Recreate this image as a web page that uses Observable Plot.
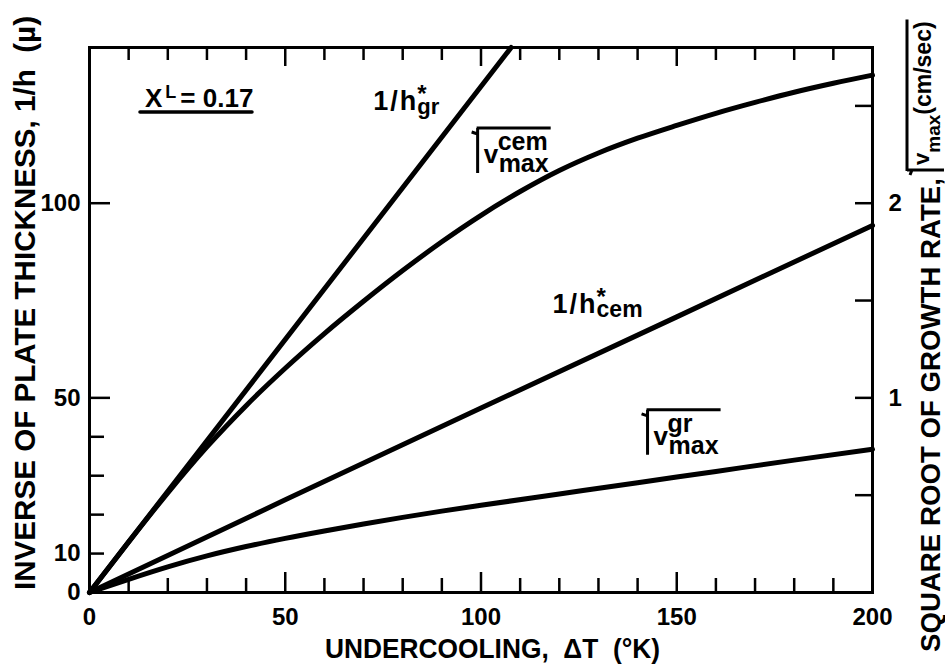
<!DOCTYPE html>
<html><head><meta charset="utf-8">
<script src="https://cdn.jsdelivr.net/npm/d3@7"></script>
<script src="https://cdn.jsdelivr.net/npm/@observablehq/plot@0.6"></script>
<style>
html,body{margin:0;padding:0;background:#fff;}
svg{display:block;}
</style></head><body><div id="chart"></div>
<script>
// ---- data (left-axis units: 1/h in 1/µ; right axis = left / 50) ----
const hGrT = [0, 107.7];
const hGrV = [0, 140];
const hCemT = [0, 50, 100, 150, 200];
const hCemV = [0, 23.8, 47.4, 70.8, 94.3];
const vCemT = [0,10,20,30,40,50,60,70,80,90,100,110,120,130,140,150,160,170,180,190,200];
const vCemV = [0,13,25.6,37.4,48,57.6,66.5,74.8,82.7,90.1,96.9,103,108.4,112.9,116.7,120,123.1,125.9,128.5,130.8,132.9];
const vGrT = [0,10,20,30,40,50,60,70,80,90,100,120,140,160,180,200];
const vGrV = [0,3.4,6.6,9.4,11.8,13.9,15.8,17.6,19.3,20.9,22.4,25.3,28.2,31.1,34,36.8];

// ---- ticks ----
const xTickLabels = [0, 50, 100, 150, 200];
const xMajorTicks = [50, 100, 150];
const xMinorTicks = [10,20,30,40,60,70,80,90,110,120,130,140,160,170,180,190];
const yTickLabels = [0, 10, 50, 100];
const yMinorTicks = [10, 20, 30, 40];
const yMajorTicks = [50, 100];
const rightTickLabels = [1, 2];
const rightTicks = [0.5, 1, 1.5, 2, 2.5];
const rightFactor = 50;

const FONT = "'Liberation Sans',Arial,sans-serif";
const rows = (xs, ys) => xs.map((x, i) => ({x, y: ys[i]}));
const lineOpts = {x: "x", y: "y", stroke: "#000", strokeWidth: 5, strokeLinecap: "round"};

const chart = Plot.plot({
  width: 945, height: 667,
  marginLeft: 89, marginRight: 73, marginTop: 47, marginBottom: 75,
  x: {domain: [0, 200]},
  y: {domain: [0, 140]},
  style: {fontFamily: FONT, fontWeight: "bold", color: "#000", background: "#fff", overflow: "visible"},
  marks: [
    Plot.line(rows(hGrT, hGrV), lineOpts),
    Plot.line(rows(hCemT, hCemV), lineOpts),
    Plot.line(rows(vCemT, vCemV), {...lineOpts, curve: "monotone-x"}),
    Plot.line(rows(vGrT, vGrV), {...lineOpts, curve: "monotone-x"}),
    Plot.frame({stroke: "#000", strokeWidth: 3}),
    // bottom
    Plot.axisX(xMinorTicks, {anchor: "bottom", tickSize: 14, dy: -14, fill: "none", label: null, strokeWidth: 2.5}),
    Plot.axisX(xMajorTicks, {anchor: "bottom", tickSize: 20, dy: -20, fill: "none", label: null, strokeWidth: 2.5}),
    Plot.axisX(xTickLabels, {anchor: "bottom", tickSize: 0, tickPadding: 15, fontSize: 24, label: null}),
    // top
    Plot.axisX(xMinorTicks, {anchor: "top", tickSize: 12, dy: 12, fill: "none", label: null, strokeWidth: 2.5}),
    Plot.axisX(xMajorTicks, {anchor: "top", tickSize: 18, dy: 18, fill: "none", label: null, strokeWidth: 2.5}),
    // left
    Plot.axisY(yMinorTicks, {anchor: "left", tickSize: 15, dx: 15, fill: "none", label: null, strokeWidth: 2.5}),
    Plot.axisY(yMajorTicks, {anchor: "left", tickSize: 21, dx: 21, fill: "none", label: null, strokeWidth: 2.5}),
    Plot.axisY(yTickLabels, {anchor: "left", tickSize: 0, tickPadding: 9, fontSize: 24, label: null}),
    // right
    Plot.axisY(rightTicks.map(d => d * rightFactor), {anchor: "right", tickSize: 18, dx: -18, fill: "none", label: null, strokeWidth: 2.5}),
    Plot.axisY(rightTickLabels.map(d => d * rightFactor), {anchor: "right", tickSize: 0, tickPadding: 16, fontSize: 24, label: null, tickFormat: d => String(d / rightFactor)})
  ]
});
document.getElementById("chart").appendChild(chart);

// ---- annotations ----
const svg = d3.select(chart);
const sx = chart.scale("x"), sy = chart.scale("y");
const g = svg.append("g").attr("fill", "#000").attr("font-family", FONT)
  .attr("font-weight", "bold").attr("text-anchor", "start");

const hLabels = [
  {main: "1/h", sub: "gr", t: 72.6, v: 123.8, subSize: 22},
  {main: "1/h", sub: "cem", t: 118.4, v: 71.7, subSize: 23}
];
const vLabels = [
  {sup: "cem", sub: "max", t: 100.8, v: 110.2},
  {sup: "gr", sub: "max", t: 144.2, v: 37.8}
];
const xlLabel = {t: 14.3, v: 124.6, base: "X", sup: "L", rest: "= 0.17"};

for (const d of hLabels) {
  const x = sx.apply(d.t), y = sy.apply(d.v);
  const t = g.append("text").attr("x", x).attr("y", y);
  t.append("tspan").attr("font-size", 27).attr("letter-spacing", 2).text(d.main);
  const star = t.append("tspan").attr("font-size", 24).attr("dx", -1).attr("dy", -8).text("*");
  const sw = star.node().getComputedTextLength();
  t.append("tspan").attr("font-size", d.subSize).attr("dx", -sw).attr("dy", 12).text(d.sub);
}
for (const d of vLabels) {
  const x = sx.apply(d.t), y = sy.apply(d.v);
  const t = g.append("text").attr("x", x).attr("y", y);
  const v = t.append("tspan").attr("font-size", 26).text("v");
  const vw = v.node().getComputedTextLength();
  const a = t.append("tspan").attr("font-size", 25).attr("dx", 14 - vw).attr("dy", -13).text(d.sup);
  const aw = a.node().getComputedTextLength();
  const b = t.append("tspan").attr("font-size", 25).attr("dx", 1 - aw).attr("dy", 22).text(d.sub);
  const bw = b.node().getComputedTextLength();
  const w = Math.max(aw + 14, bw + 15);
  g.append("path")
    .attr("d", `M${x - 12},${y - 31}L${x - 6},${y - 29}M${x - 6},${y - 35}V${y + 10}M${x - 7},${y - 35}H${x + w + 2}`)
    .attr("stroke", "#000").attr("stroke-width", 3).attr("fill", "none");
}
{
  const x = sx.apply(xlLabel.t), y = sy.apply(xlLabel.v);
  const t = g.append("text").attr("x", x).attr("y", y);
  t.append("tspan").attr("font-size", 26).text(xlLabel.base);
  t.append("tspan").attr("font-size", 18).attr("dx", 3).attr("dy", -9).text(xlLabel.sup);
  t.append("tspan").attr("font-size", 26).attr("dx", 4).attr("dy", 9).text(xlLabel.rest);
  g.append("path").attr("d", `M${x - 5},${y + 5}H${x + 107}`).attr("stroke", "#000").attr("stroke-width", 3.5).attr("stroke-linecap", "round");
}

// ---- axis titles ----
const xTitle = "UNDERCOOLING,  ΔT  (°K)";
const yTitle = "INVERSE OF PLATE THICKNESS, 1/h  (µ)";
const y2Title = "SQUARE ROOT OF GROWTH RATE,";
g.append("text").attr("x", 325).attr("y", 658).attr("font-size", 28)
  .attr("textLength", 335).attr("lengthAdjust", "spacingAndGlyphs")
  .style("white-space", "pre").text(xTitle);
g.append("text").attr("transform", "translate(35,590) rotate(-90)").attr("font-size", 29)
  .attr("textLength", 574).attr("lengthAdjust", "spacingAndGlyphs")
  .style("white-space", "pre").text(yTitle);
{
  const r = g.append("g").attr("transform", "translate(940,652) rotate(-90)");
  r.append("text").attr("x", 0).attr("y", 0).attr("font-size", 28)
    .attr("textLength", 474).attr("lengthAdjust", "spacingAndGlyphs").text(y2Title);
  const xe = 474;
  const t = r.append("text").attr("x", xe + 13).attr("y", -11);
  t.append("tspan").attr("font-size", 22).text("v");
  t.append("tspan").attr("font-size", 19).attr("dy", 11).text("max");
  t.append("tspan").attr("font-size", 23).attr("dy", -9).text("(cm/sec)");
  const end = xe + 13 + t.node().getComputedTextLength();
  r.append("path").attr("d", `M${xe + 3},${-30}L${xe + 8},${-28}M${xe + 8},${-33}V${4}M${xe + 7},${-33}H${end + 2}`)
    .attr("stroke", "#000").attr("stroke-width", 3).attr("fill", "none");
}
</script></body></html>
